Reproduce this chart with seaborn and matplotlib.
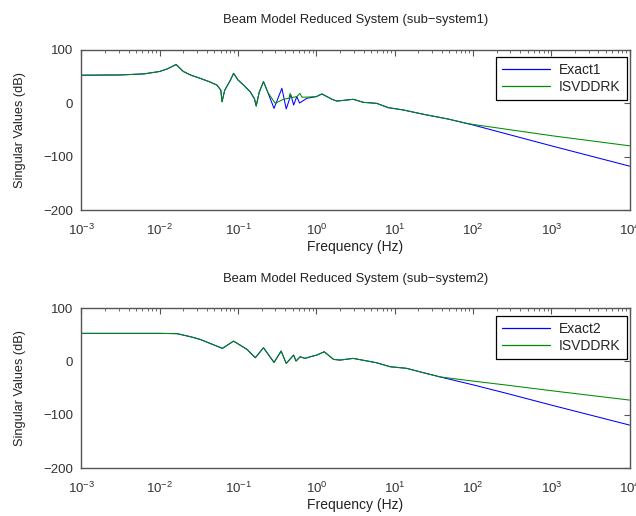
import numpy as np
import pandas as pd
import matplotlib
matplotlib.use("Agg")
import matplotlib.pyplot as plt
import seaborn as sns
from matplotlib.lines import Line2D
from matplotlib.ticker import LogLocator, NullFormatter, FixedLocator

# ---------------- data ----------------
# sub-system 1
f_exact1 = [0.001, 0.00316, 0.00631, 0.01, 0.0126, 0.0162, 0.02, 0.0251, 0.0331, 0.0427,
            0.0537, 0.0603, 0.0624, 0.0676, 0.0794, 0.0877, 0.1, 0.1175, 0.143, 0.162,
            0.1706, 0.186, 0.2113, 0.24, 0.288, 0.363, 0.412, 0.473, 0.513, 0.562,
            0.61, 0.759, 1.0, 1.175, 1.585, 1.82, 2.24, 2.95, 3.98, 5.89,
            8.32, 12.9, 23.2, 48.4, 100.0, 1000.0, 10000.0]
db_exact1 = [52, 52.5, 54.5, 59, 64, 72, 59, 52, 46, 40,
             33.6, 24, 2.4, 24, 42, 55.5, 43, 33.6, 21, 8,
             -5.6, 20, 40, 20, -10, 27.5, -11, 15, -3.7, 12,
             0, 9, 12, 17, 7, 3.7, 5, 7, 1.3, -0.6,
             -8.7, -13, -21, -30, -41, -80, -118]

f_isv1 = [0.001, 0.00316, 0.00631, 0.01, 0.0126, 0.0162, 0.02, 0.0251, 0.0331, 0.0427,
          0.0537, 0.0603, 0.0624, 0.0676, 0.0794, 0.0877, 0.1, 0.1175, 0.143, 0.162,
          0.1706, 0.186, 0.2113, 0.24, 0.298, 0.38, 0.447, 0.462, 0.479, 0.562,
          0.617, 0.653, 0.759, 1.0, 1.175, 1.585, 1.82, 2.24, 2.95, 3.98,
          5.89, 8.32, 12.9, 23.2, 48.4, 83.2, 100.0, 1000.0, 10000.0]
db_isv1 = [52, 52.5, 54.5, 59, 64, 72, 59, 52, 46, 40,
           33.6, 24, 2.4, 24, 42, 55.5, 43, 33.6, 21, 8,
           -5.6, 20, 40, 20, -0.6, 7, 9, 18, 10, 12,
           18, 11, 11, 12, 17, 7, 3.7, 5, 7, 1.3,
           -0.6, -8.7, -13, -21, -30, -38, -40, -61, -80]

# sub-system 2
f_exact2 = [0.001, 0.01, 0.0166, 0.0251, 0.0331, 0.0631, 0.0877, 0.13, 0.166, 0.2113,
            0.288, 0.355, 0.412, 0.513, 0.55, 0.621, 0.716, 0.832, 1.014, 1.259,
            1.66, 2.0, 2.95, 5.89, 8.71, 14.1, 22.9, 37.6, 100.0, 269.0,
            1000.0, 10000.0]
db_exact2 = [52.5, 52.5, 52, 46, 41, 24.4, 38, 22.5, 6.8, 25.5,
             -2, 19.3, -3.8, 11.8, 0.6, 8.6, 5.6, 8.6, 11.8, 18,
             3.7, 2.4, 5.6, -2.6, -10, -13, -21, -29, -44, -60,
             -82, -119.5]

f_isv2 = [0.001, 0.01, 0.0166, 0.0251, 0.0331, 0.0631, 0.0877, 0.13, 0.166, 0.2113,
          0.288, 0.355, 0.412, 0.513, 0.55, 0.621, 0.716, 0.832, 1.014, 1.259,
          1.66, 2.0, 2.95, 5.89, 8.71, 14.1, 22.9, 37.6, 100.0, 269.0,
          1000.0, 10000.0]
db_isv2 = [52.5, 52.5, 52, 46, 41, 24.4, 38, 22.5, 6.8, 25.5,
           -2, 19.3, -3.8, 11.8, 0.6, 8.6, 5.6, 8.6, 11.8, 18,
           3.7, 2.4, 5.6, -2.6, -10, -13, -21, -29, -37, -44.5,
           -55, -72.6]

titles = ["Beam Model Reduced System (sub\u2212system1)",
          "Beam Model Reduced System (sub\u2212system2)"]
exact_names = ["Exact1", "Exact2"]
isv_name = "ISVDDRK"
xlabel = "Frequency (Hz)"
ylabel = "Singular Values (dB)"
yticks = [-200, -100, 0, 100]
xticks = [1e-3, 1e-2, 1e-1, 1e0, 1e1, 1e2, 1e3, 1e4]

# ---------------- style ----------------
sns.set_theme(style="white")
plt.rcParams['font.family'] = ['Liberation Sans', 'DejaVu Sans']
plt.rcParams['mathtext.fontset'] = 'custom'
plt.rcParams['mathtext.rm'] = 'Liberation Sans'
plt.rcParams['mathtext.it'] = 'Liberation Sans:italic'
plt.rcParams['mathtext.bf'] = 'Liberation Sans:bold'

spine_c = '#555555'
text_c = '#333333'
blue = '#0000ff'
green = '#008c00'

fig = plt.figure(figsize=(6.36, 5.16), dpi=100)
fig.patch.set_facecolor('white')

positions = [[0.128, 0.593, 0.862, 0.311], [0.128, 0.093, 0.862, 0.310]]
series = [(f_exact1, db_exact1, f_isv1, db_isv1), (f_exact2, db_exact2, f_isv2, db_isv2)]

for i in range(2):
    ax = fig.add_axes(positions[i])
    fe, de, fi, di = series[i]
    df = pd.concat([
        pd.DataFrame({"f": fe, "db": de, "s": exact_names[i]}),
        pd.DataFrame({"f": fi, "db": di, "s": isv_name}),
    ], ignore_index=True)
    sns.lineplot(data=df, x="f", y="db", hue="s", palette=[blue, green],
                 sort=False, estimator=None, ax=ax, linewidth=0.75, legend=False)
    ax.set_xscale('log')
    ax.set_xlim(1e-3, 1e4)
    ax.set_ylim(-200, 100)
    ax.yaxis.set_major_locator(FixedLocator(yticks))
    ax.xaxis.set_major_locator(FixedLocator(xticks))
    ax.xaxis.set_minor_locator(LogLocator(base=10, subs=np.arange(2, 10), numticks=20))
    ax.xaxis.set_minor_formatter(NullFormatter())
    for sp in ax.spines.values():
        sp.set_color(spine_c)
        sp.set_linewidth(1.0)
    ax.tick_params(which='both', direction='in', top=True, right=True,
                   color=spine_c, labelcolor=text_c, labelsize=9.5)
    ax.tick_params(which='major', length=4, width=0.8)
    ax.tick_params(which='minor', length=2, width=0.6)
    ax.tick_params(axis='x', which='major', pad=9)
    ax.tick_params(axis='y', which='major', pad=6)
    ax.set_title(titles[i], fontsize=9.4, color='#222222', pad=19)
    ax.set_xlabel(xlabel, fontsize=10, color='#222222', labelpad=2)
    ax.set_ylabel(ylabel, fontsize=9.2, color='#222222', labelpad=12)
    ax.grid(False)
    handles = [Line2D([], [], color=blue, lw=0.9), Line2D([], [], color=green, lw=0.9)]
    leg = ax.legend(handles, [exact_names[i], isv_name], loc='upper right',
                    bbox_to_anchor=(1 - 3 / 550, 1 - 7.5 / 160.5), borderaxespad=0,
                    fontsize=10, frameon=True, fancybox=False, framealpha=1,
                    edgecolor='black', handlelength=3.5, labelspacing=0.2,
                    borderpad=0.45, handletextpad=0.6)
    leg.get_frame().set_linewidth(0.9)

fig.savefig("out.png", dpi=100, facecolor='white')
